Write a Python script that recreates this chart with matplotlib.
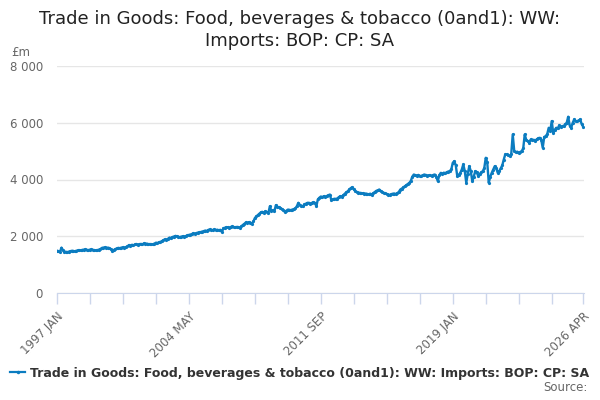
import numpy as np
import matplotlib
matplotlib.use("Agg")
import matplotlib.pyplot as plt
from matplotlib.ticker import FuncFormatter
from matplotlib.lines import Line2D

# monthly values, £m, 1997 JAN .. 2026 APR
years = list(range(1997, 2027))
month_names = ["JAN", "FEB", "MAR", "APR", "MAY", "JUN",
               "JUL", "AUG", "SEP", "OCT", "NOV", "DEC"]

v1997 = [1490, 1470, 1450, 1600, 1500, 1460, 1450, 1440, 1460, 1470, 1490, 1480]
v1998 = [1470, 1490, 1500, 1510, 1500, 1520, 1530, 1540, 1520, 1510, 1530, 1535]
v1999 = [1520, 1510, 1500, 1510, 1530, 1550, 1590, 1600, 1610, 1590, 1600, 1580]
v2000 = [1540, 1465, 1520, 1550, 1570, 1590, 1580, 1600, 1610, 1600, 1620, 1640]
v2001 = [1690, 1670, 1700, 1680, 1710, 1726, 1700, 1720, 1730, 1710, 1750, 1740]
v2002 = [1740, 1720, 1726, 1710, 1720, 1740, 1774, 1760, 1790, 1800, 1830, 1860]
v2003 = [1893, 1880, 1910, 1952, 1940, 1970, 1990, 2012, 2000, 1980, 1970, 1988]
v2004 = [2000, 1990, 2010, 2030, 2048, 2060, 2080, 2107, 2090, 2110, 2130, 2140]
v2005 = [2150, 2167, 2180, 2200, 2190, 2226, 2240, 2210, 2226, 2240, 2220, 2230]
v2006 = [2210, 2226, 2150, 2280, 2300, 2321, 2310, 2300, 2330, 2345, 2320, 2310]
v2007 = [2330, 2321, 2300, 2350, 2400, 2440, 2488, 2470, 2500, 2480, 2440, 2520]
v2008 = [2643, 2700, 2750, 2800, 2845, 2860, 2830, 2881, 2850, 2821, 3060, 2880]
v2009 = [2917, 2880, 3095, 3040, 3020, 3000, 2960, 2920, 2857, 2900, 2940, 2930]
v2010 = [2920, 2940, 2960, 2980, 3060, 3179, 3100, 3059, 3060, 3120, 3150, 3176]
v2011 = [3179, 3150, 3176, 3202, 3180, 3059, 3300, 3357, 3400, 3380, 3412, 3390]
v2012 = [3420, 3440, 3470, 3270, 3300, 3320, 3318, 3330, 3380, 3412, 3400, 3450]
v2013 = [3500, 3550, 3588, 3650, 3700, 3729, 3650, 3588, 3560, 3540, 3530, 3520]
v2014 = [3510, 3500, 3506, 3490, 3480, 3500, 3470, 3520, 3560, 3600, 3620, 3647]
v2015 = [3590, 3560, 3530, 3510, 3490, 3470, 3460, 3480, 3500, 3506, 3490, 3520]
v2016 = [3560, 3647, 3680, 3720, 3760, 3800, 3840, 3882, 3950, 4100, 4176, 4150]
v2017 = [4140, 4160, 4118, 4130, 4150, 4176, 4160, 4130, 4150, 4141, 4120, 4160]
v2018 = [4176, 4100, 3941, 4150, 4235, 4200, 4240, 4220, 4259, 4280, 4300, 4353]
v2019 = [4588, 4647, 4500, 4118, 4160, 4235, 4350, 4529, 4300, 3882, 4200, 4470]
v2020 = [4300, 3941, 4100, 4294, 4250, 4118, 4200, 4250, 4294, 4400, 4765, 4600]
v2021 = [3882, 4100, 4235, 4350, 4470, 4400, 4235, 4300, 4400, 4494, 4700, 4882]
v2022 = [4882, 4850, 4823, 4900, 5588, 5000, 4960, 4980, 4941, 4970, 5000, 5100]
v2023 = [5588, 5400, 5353, 5300, 5412, 5380, 5400, 5353, 5420, 5450, 5470, 5400]
v2024 = [5118, 5500, 5529, 5600, 5823, 5700, 6059, 5647, 5750, 5823, 5800, 5906]
v2025 = [5850, 5880, 5882, 5950, 6000, 6212, 5900, 5823, 6000, 6118, 6050, 6059]
v2026 = [6080, 6118, 5950, 5859]

values = (v1997 + v1998 + v1999 + v2000 + v2001 + v2002 + v2003 + v2004 +
          v2005 + v2006 + v2007 + v2008 + v2009 + v2010 + v2011 + v2012 +
          v2013 + v2014 + v2015 + v2016 + v2017 + v2018 + v2019 + v2020 +
          v2021 + v2022 + v2023 + v2024 + v2025 + v2026)

labels = ["{} {}".format(y, m) for y in years for m in month_names][:len(values)]

series_name = "Trade in Goods: Food, beverages & tobacco (0and1): WW: Imports: BOP: CP: SA"
title = "Trade in Goods: Food, beverages & tobacco (0and1): WW:\nImports: BOP: CP: SA"

blue = "#0b7cc0"
grey = "#666666"

plt.rcParams['font.family'] = ['DejaVu Sans']

fig = plt.figure(figsize=(6, 4), dpi=100)
ax = fig.add_axes([0.095, 0.2675, 0.878, 0.5675])

x = np.arange(len(values))
ax.plot(x, values, color=blue, linewidth=1.7, marker='o', markersize=2.3,
        markeredgewidth=0)

ax.set_ylim(0, 8000)
ax.set_yticks([0, 2000, 4000, 6000, 8000])
ax.yaxis.set_major_formatter(FuncFormatter(lambda v, p: "{:,.0f}".format(v).replace(",", " ")))
ax.grid(axis='y', color='#e6e6e6', linewidth=1)
ax.set_axisbelow(True)

ticks = list(range(0, len(values), 22)) + [len(values) - 1]
ax.set_xticks(ticks)
ax.set_xticklabels([labels[t] if (t % 88 == 0 or t == len(values) - 1) else "" for t in ticks],
                   rotation=45, ha='right', rotation_mode='anchor')
ax.set_xlim(0, len(values) - 0.6)

for s in ['top', 'right', 'left']:
    ax.spines[s].set_visible(False)
ax.spines['bottom'].set_color('#ccd6eb')
ax.tick_params(axis='x', colors='#ccd6eb', length=8, width=1, labelcolor=grey,
               labelsize=8.5, pad=4)
ax.tick_params(axis='y', length=0, labelcolor=grey, labelsize=8.5, pad=10)

fig.text(0.018, 0.86, "£m", color=grey, fontsize=8.5)
fig.suptitle(title, fontsize=13, color="#222222", y=0.975, linespacing=1.25)

handle = Line2D([0], [0], color=blue, linewidth=1.6, marker='o', markersize=2.5,
                markeredgewidth=0)
leg = fig.legend([handle], [series_name], loc='center', bbox_to_anchor=(0.5, 0.067),
                 frameon=False, handlelength=1.2, handletextpad=0.4,
                 prop={'weight': 'bold', 'size': 9})
for t in leg.get_texts():
    t.set_color('#333333')
fig.text(0.98, 0.022, "Source:", ha='right', color=grey, fontsize=8.5)

fig.savefig("out.png", dpi=100)
